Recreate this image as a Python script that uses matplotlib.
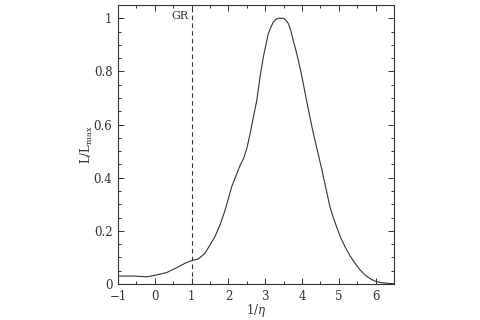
import matplotlib
matplotlib.use("Agg")
import matplotlib.pyplot as plt
from matplotlib.ticker import MultipleLocator

# Data
inv_eta = [-1.0, -0.58, -0.22, 0.05, 0.32, 0.59, 0.82, 1.0, 1.18, 1.36, 1.5,
           1.64, 1.78, 1.91, 2.09, 2.2, 2.32, 2.42, 2.5, 2.59, 2.68, 2.77,
           2.86, 2.95, 3.08, 3.15, 3.22, 3.29, 3.36, 3.43, 3.49, 3.56, 3.63,
           3.70, 3.76, 3.83, 3.90, 3.99, 4.11, 4.22, 4.31, 4.43, 4.54, 4.65,
           4.76, 4.85, 4.94, 5.05, 5.17, 5.3, 5.44, 5.58, 5.71, 5.85, 5.98,
           6.15, 6.39, 6.5]
lum = [0.030, 0.030, 0.027, 0.034, 0.043, 0.061, 0.078, 0.088, 0.094, 0.115,
       0.147, 0.180, 0.225, 0.278, 0.366, 0.405, 0.447, 0.475, 0.510, 0.566,
       0.629, 0.690, 0.78, 0.855, 0.94, 0.965, 0.986, 0.996, 1.0, 1.0, 1.0,
       0.993, 0.980, 0.952, 0.917, 0.882, 0.842, 0.786, 0.70, 0.625, 0.566,
       0.495, 0.43, 0.36, 0.29, 0.25, 0.215, 0.175, 0.14, 0.107, 0.078,
       0.053, 0.034, 0.020, 0.011, 0.005, 0.002, 0.001]
gr_x = 1.0

plt.rcParams["font.family"] = "DejaVu Serif"
plt.rcParams["mathtext.fontset"] = "dejavuserif"

fig = plt.figure(figsize=(4.8, 3.2), dpi=100)
ax = fig.add_axes([118 / 480, 1 - 284 / 320, (394 - 118) / 480, (284 - 5) / 320])

ax.plot(inv_eta, lum, color="#333333", lw=0.8)
ax.axvline(gr_x, color="#333333", lw=0.8, ls=(0, (4, 3)))
ax.text(gr_x - 0.08, 1.01, "GR", ha="right", va="center", fontsize=8, color="#333333")

ax.set_xlim(-1, 6.5)
ax.set_ylim(0, 1.05)
ax.xaxis.set_minor_locator(MultipleLocator(0.5))
ax.yaxis.set_minor_locator(MultipleLocator(0.05))
ax.set_yticks([0, 0.2, 0.4, 0.6, 0.8, 1])
ax.set_yticklabels(["0", "0.2", "0.4", "0.6", "0.8", "1"])
ax.set_xticks([-1, 0, 1, 2, 3, 4, 5, 6])
ax.set_xticklabels(["\u22121", "0", "1", "2", "3", "4", "5", "6"])

ax.tick_params(which="both", direction="in", top=True, right=True,
               labelsize=8.5, colors="#333333", width=0.7)
ax.tick_params(which="major", length=4.5, pad=4)
ax.tick_params(which="minor", length=2.5)
for s in ax.spines.values():
    s.set_linewidth(0.8)
    s.set_color("#333333")

ax.set_xlabel(r"$1/\eta$", fontsize=8.5, color="#333333", va="center")
ax.xaxis.set_label_coords(0.5, -0.094)
ax.set_ylabel(r"$\mathrm{L/L_{max}}$", fontsize=8.5, color="#333333", va="center")
ax.yaxis.set_label_coords(-0.112, 0.5)

fig.savefig("out.png", dpi=100)
